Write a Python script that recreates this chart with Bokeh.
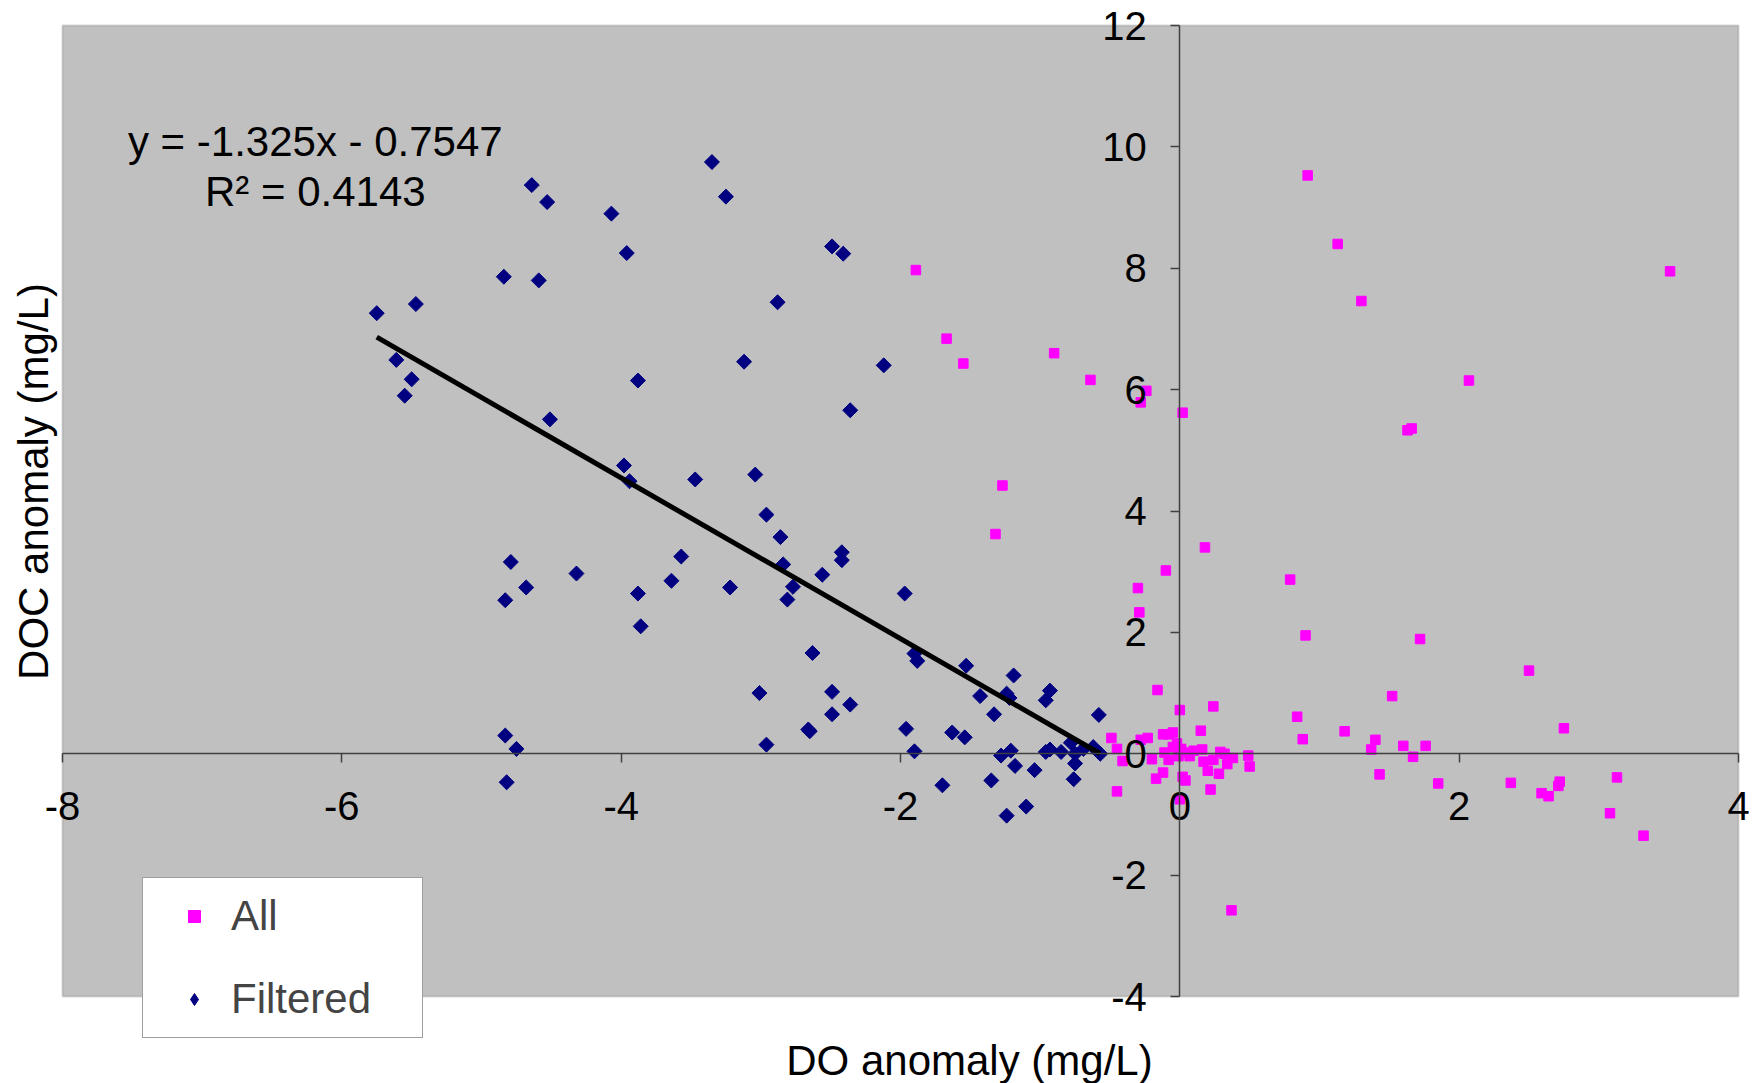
import math
from bokeh.plotting import figure
from bokeh.models import (Range1d, FixedTicker, Label, Legend, LegendItem,
                          BoxAnnotation, CustomJSTickFormatter)
from bokeh.embed import file_html
from bokeh.resources import INLINE

# ---- data ----
filtered_x = [-5.75, -5.61, -5.55, -5.50, -5.47, -4.84, -4.83, -4.79, -4.83, -4.75,
              -4.82, -4.68, -4.64, -4.59, -4.53, -4.51, -4.32, -4.07, -3.98, -3.96,
              -3.94, -3.88, -3.88, -3.86, -3.64, -3.57, -3.47, -3.35, -3.25, -3.22,
              -3.12, -3.04, -3.01, -2.96, -2.96, -2.88, -2.86, -2.84, -2.81, -2.77,
              -2.66, -2.65, -2.63, -2.56, -2.49, -2.49, -2.49, -2.42, -2.42, -2.41,
              -2.36, -2.36, -2.12, -1.97, -1.96, -1.90, -1.90, -1.88, -1.70, -1.63,
              -1.54, -1.53, -1.43, -1.35, -1.33, -1.28, -1.24, -1.24, -1.22, -1.21,
              -1.18, -1.19, -1.10, -1.04, -0.96, -0.96, -0.93, -0.93, -0.85, -0.78,
              -0.76, -0.75, -0.75, -0.69, -0.62, -0.58, -0.57]
filtered_y = [7.26, 6.49, 5.90, 6.17, 7.41, 7.86, 2.53, 3.16, 0.30, 0.08,
              -0.47, 2.74, 9.37, 7.80, 9.09, 5.51, 2.97, 8.90, 4.75, 8.25,
              4.49, 6.15, 2.64, 2.10, 2.85, 3.25, 4.52, 9.75, 9.18, 2.74,
              6.46, 4.60, 1.00, 0.15, 3.94, 7.44, 3.57, 3.12, 2.54, 2.75,
              0.40, 0.37, 1.66, 2.95, 1.02, 0.65, 8.36, 3.32, 3.19, 8.24,
              5.66, 0.81, 6.40, 2.64, 0.41, 0.04, 1.65, 1.53, -0.52, 0.35,
              0.27, 1.45, 0.95, -0.44, 0.65, -0.03, -1.02, 0.99, 0.92, 0.05,
              -0.20, 1.29, -0.87, -0.27, 0.03, 0.88, 1.04, 0.07, 0.03, 0.18,
              -0.42, -0.16, 0.00, 0.08, 0.11, 0.64, 0.00]

# points of the "All" series that are not hidden under a filtered diamond
all_x = [-1.89, -1.67, -1.55, -0.90, -0.64, -0.24, -0.28, 0.02, -1.27, -1.32,
         0.18, -0.10, -0.30, -0.29, 0.79, 0.90, 1.72, 2.50, -0.16, 1.52,
         0.24, 0.00, 0.84, 2.75, 0.88, 1.18, 1.40, 1.37, 1.60, 1.76,
         1.67, 1.43, 1.85, 2.37, 2.59, 2.64, 2.71, 2.72, 3.13, 3.08,
         3.32, 0.37, 0.915, 1.13, 1.30, 3.51, 2.07, 1.63, 1.66,
         -0.49, -0.45, -0.45, -0.41, -0.28, -0.23, -0.20, -0.17, -0.12, -0.12,
         -0.08, -0.05, -0.11, -0.08, -0.05, -0.02, -0.01, 0.01, 0.04, 0.02,
         0.04, 0.00, 0.07, 0.10, 0.15, 0.16, 0.17, 0.20, 0.22, 0.24,
         0.28, 0.29, 0.32, 0.34, 0.38, 0.49, 0.50]
all_y = [7.97, 6.84, 6.43, 6.60, 6.16, 5.98, 5.79, 5.62, 4.42, 3.62,
         3.40, 3.02, 2.73, 2.33, 2.87, 1.95, 1.89, 1.37, 1.05, 0.95,
         0.78, 0.72, 0.61, 0.42, 0.24, 0.37, 0.23, 0.07, 0.13, 0.13,
         -0.05, -0.34, -0.49, -0.48, -0.65, -0.70, -0.53, -0.46, -0.39, -0.98,
         -1.35, -2.58, 9.53, 8.40, 7.46, 7.95, 6.15, 5.33, 5.36,
         0.26, 0.08, -0.62, -0.12, 0.23, 0.26, -0.09, -0.41, -0.31, 0.32,
         0.32, 0.35, 0.02, -0.10, 0.11, 0.17, -0.04, 0.08, 0.02, -0.38,
         -0.44, -0.75, -0.04, 0.05, 0.38, 0.07, -0.13, -0.28, -0.59, -0.10,
         -0.33, 0.03, 0.00, -0.17, -0.07, -0.03, -0.21]

x_ticks = [-8, -6, -4, -2, 0, 2, 4]
y_ticks = [-4, -2, 0, 2, 4, 6, 8, 10, 12]

slope = -1.325
intercept = -0.7547
r_squared = 0.4143

FONT = "Liberation Sans"
MAGENTA = "#FF00FF"
NAVY = "#000080"

# ---- layout: the frame covers the whole canvas; the grey plot area is the
# axis-limit box drawn as an underlay ----
W, H = 1758, 1083
PAD_L, PAD_R, PAD_T, PAD_B = 62, 20, 25, 87
x_min, x_max = x_ticks[0], x_ticks[-1]
y_min, y_max = y_ticks[0], y_ticks[-1]
kx = (W - PAD_L - PAD_R) / (x_max - x_min)
ky = (H - PAD_T - PAD_B) / (y_max - y_min)

p = figure(width=W, height=H, output_backend="svg", toolbar_location=None,
           x_range=Range1d(x_min - PAD_L / kx, x_max + PAD_R / kx),
           y_range=Range1d(y_min - PAD_B / ky, y_max + PAD_T / ky),
           min_border=0)
p.title.visible = False
p.background_fill_color = "white"
p.border_fill_color = "white"
p.outline_line_color = None
p.grid.visible = False

p.add_layout(BoxAnnotation(left=x_min, right=x_max, bottom=y_min, top=y_max,
                           fill_color="#C0C0C0", fill_alpha=1.0,
                           line_color="#808080", line_width=2, level="underlay"))

fmt = CustomJSTickFormatter(code="return tick.toString();")
for ax, ticks, bnds in ((p.xaxis[0], x_ticks, (x_min, x_max)),
                        (p.yaxis[0], y_ticks, (y_min, y_max))):
    ax.ticker = FixedTicker(ticks=ticks)
    ax.formatter = fmt
    ax.fixed_location = 0
    ax.bounds = bnds
    ax.axis_line_color = "#404040"
    ax.axis_line_width = 1.5
    ax.major_tick_line_color = "#404040"
    ax.major_tick_line_width = 1.5
    ax.major_tick_in = 0
    ax.major_tick_out = 9
    ax.minor_tick_line_color = None
    ax.major_label_text_font = FONT
    ax.major_label_text_font_size = "40px"
    ax.major_label_text_color = "black"
p.xaxis.major_label_standoff = 29
p.yaxis.major_label_standoff = 24

# axis titles (screen units, measured from the canvas' bottom-left)
p.add_layout(Label(x=969, y=H - 1060, x_units="screen", y_units="screen",
                   text="DO anomaly (mg/L)", text_align="center",
                   text_baseline="middle", text_font=FONT,
                   text_font_size="42px", text_color="black"))
p.add_layout(Label(x=33, y=H - 481, x_units="screen", y_units="screen",
                   text="DOC anomaly (mg/L)", angle=math.pi / 2,
                   text_align="center", text_baseline="middle", text_font=FONT,
                   text_font_size="42px", text_color="black"))

r_all = p.scatter(all_x, all_y, marker="square", size=9.5,
                  fill_color=MAGENTA, line_color=MAGENTA)
# legend key for "Filtered" (the legend does not rotate markers); its single
# point sits hidden underneath the first filtered diamond
r_f_key = p.scatter(filtered_x[:1], filtered_y[:1], marker="diamond", size=10,
                    fill_color=NAVY, line_color=NAVY)
r_f = p.scatter(filtered_x, filtered_y, marker="square", angle=math.pi / 4,
                size=10.6, fill_color=NAVY, line_color=NAVY)

trend_x = [min(filtered_x), max(filtered_x)]
trend_y = [slope * v + intercept for v in trend_x]
p.line(trend_x, trend_y, line_color="black", line_width=5)

p.add_layout(Label(x=-6.19, y=10.09, text=f"y = {slope}x - {abs(intercept)}",
                   text_align="center", text_baseline="middle",
                   text_font=FONT, text_font_size="42px", text_color="black"))
p.add_layout(Label(x=-6.19, y=9.27, text=f"R\u00b2 = {r_squared}",
                   text_align="center", text_baseline="middle",
                   text_font=FONT, text_font_size="42px", text_color="black"))

legend = Legend(items=[LegendItem(label="All", renderers=[r_all]),
                       LegendItem(label="Filtered", renderers=[r_f_key])],
                location=(142, H - 1038), orientation="vertical",
                background_fill_color="white", background_fill_alpha=1.0,
                border_line_color="#404040", border_line_width=1.5,
                label_text_font=FONT, label_text_font_size="42px",
                glyph_width=74, glyph_height=30, label_standoff=0, label_width=177,
                padding=14, spacing=35, margin=0)
p.add_layout(legend)

open("out.html", "w").write(file_html(p, INLINE))
